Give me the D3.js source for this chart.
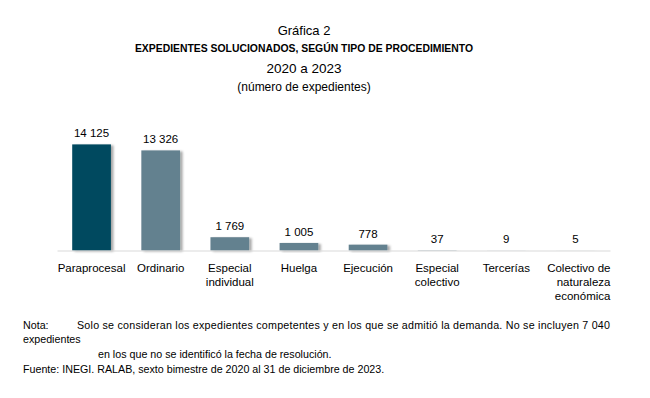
<!DOCTYPE html>
<html>
<head>
	<meta charset="utf-8">
	<title>Gráfica 2</title>
	<script src="https://cdn.jsdelivr.net/npm/d3@7"></script>
	<style>
		body {
			margin: 0;
			background: #fff;
			font-family: "Liberation Sans", Arial, Helvetica, sans-serif;
		}
	</style>
</head>
<body>
	<div id="chart"></div>

	<script>

		// data
		const categories = [
			"Paraprocesal", "Ordinario", "Especial individual", "Huelga",
			"Ejecución", "Especial colectivo", "Tercerías", "Colectivo de naturaleza económica"
		];
		const categoryLines = [
			["Paraprocesal"], ["Ordinario"], ["Especial", "individual"], ["Huelga"],
			["Ejecución"], ["Especial", "colectivo"], ["Tercerías"], ["Colectivo de", "naturaleza", "económica"]
		];
		const values = [14125, 13326, 1769, 1005, 778, 37, 9, 5];
		const highlight = "Paraprocesal";

		const titleLines = ["Gráfica 2", "EXPEDIENTES SOLUCIONADOS, SEGÚN TIPO DE PROCEDIMIENTO", "2020 a 2023", "(número de expedientes)"];
		const notaText = "Solo se consideran los expedientes competentes y en los que se admitió la demanda. No se incluyen 7 040";
		const notaLine2 = "expedientes";
		const notaLine3 = "en los que no se identificó la fecha de resolución.";
		const fuenteText = "Fuente: INEGI. RALAB, sexto bimestre de 2020 al 31 de diciembre de 2023.";

		// layout
		const width = 650;
		const height = 398;
		const marginLeft = 57;
		const marginRight = 40;
		const baseline = 250.5;
		const barTop = 144.4;
		const font = "'Liberation Sans', Arial, Helvetica, sans-serif";

		const fmt = d3.formatLocale({ decimal: ".", thousands: " ", grouping: [3], currency: ["$", ""] }).format(",d");

		const svg = d3.select("#chart")
			.append("svg")
			.attr("width", width)
			.attr("height", height)
			.attr("viewBox", [0, 0, width, height])
			.style("font-family", font);

		// drop shadow for bars
		const defs = svg.append("defs");
		const shadow = defs.append("filter")
			.attr("id", "shadow")
			.attr("x", "-20%").attr("y", "-20%")
			.attr("width", "150%").attr("height", "150%");
		shadow.append("feDropShadow")
			.attr("dx", 2.5).attr("dy", 1)
			.attr("stdDeviation", 1.2)
			.attr("flood-color", "#000")
			.attr("flood-opacity", 0.35);

		// titles
		const titleG = svg.append("g").attr("text-anchor", "middle").attr("fill", "#000");
		titleG.append("text").attr("x", 304).attr("y", 35).style("font-size", "13px").text(titleLines[0]);
		titleG.append("text").attr("x", 304).attr("y", 52).style("font-size", "10.4px").style("font-weight", "bold").text(titleLines[1]);
		titleG.append("text").attr("x", 304).attr("y", 73).style("font-size", "13.5px").text(titleLines[2]);
		titleG.append("text").attr("x", 304).attr("y", 91).style("font-size", "12px").text(titleLines[3]);

		// scales
		const x = d3.scaleBand()
			.domain(categories)
			.range([marginLeft, width - marginRight])
			.paddingInner(0.44)
			.paddingOuter(0.22);

		const y = d3.scaleLinear()
			.domain([0, d3.max(values)])
			.range([baseline, barTop]);

		// bars
		svg.append("g")
			.selectAll("rect")
			.data(categories)
			.join("rect")
			.attr("x", (d) => x(d))
			.attr("y", (d, i) => y(values[i]))
			.attr("width", x.bandwidth())
			.attr("height", (d, i) => y(0) - y(values[i]))
			.attr("fill", (d) => d === highlight ? "#06495F" : "#64818F")
			.attr("filter", "url(#shadow)");

		// axis
		const xAxis = d3.axisBottom(x).tickSize(0).tickSizeOuter(0).tickFormat("");
		svg.append("g")
			.attr("transform", `translate(0,${baseline})`)
			.call(xAxis)
			.call(g => g.select(".domain").attr("stroke", "#d9d9d9").attr("stroke-width", 1));

		// category labels
		const labelG = svg.append("g").style("font-size", "11.5px").attr("fill", "#000");
		categories.forEach((c, i) => {
			const last = i === categories.length - 1;
			const t = labelG.append("text")
				.attr("text-anchor", last ? "end" : "middle")
				.attr("x", last ? x(c) + x.bandwidth() / 2 + 35 : x(c) + x.bandwidth() / 2)
				.attr("y", 272);
			categoryLines[i].forEach((line, j) => {
				t.append("tspan")
					.attr("x", t.attr("x"))
					.attr("dy", j === 0 ? 0 : 14)
					.text(line);
			});
		});

		// value labels
		svg.append("g")
			.style("font-size", "11.5px")
			.attr("text-anchor", "middle")
			.selectAll("text")
			.data(categories)
			.join("text")
			.attr("x", (d) => x(d) + x.bandwidth() / 2)
			.attr("y", (d, i) => y(values[i]) - 7)
			.text((d, i) => fmt(values[i]));

		// footnotes
		const noteG = svg.append("g").style("font-size", "10.7px").attr("fill", "#000");
		noteG.append("text").attr("x", 23).attr("y", 329).text("Nota:");
		noteG.append("text").attr("x", 77).attr("y", 329)
			.attr("textLength", 533).attr("lengthAdjust", "spacing")
			.text(notaText);
		noteG.append("text").attr("x", 23).attr("y", 343).text(notaLine2);
		noteG.append("text").attr("x", 98).attr("y", 358).text(notaLine3);
		noteG.append("text").attr("x", 23).attr("y", 373).text(fuenteText);

	</script>
</body>
</html>
